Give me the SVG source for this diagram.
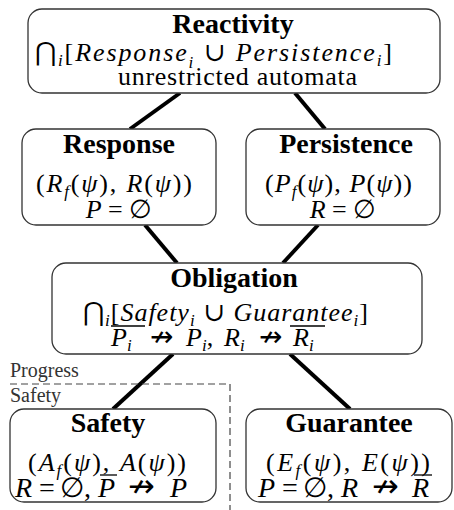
<svg xmlns="http://www.w3.org/2000/svg" width="454" height="510" viewBox="0 0 454 510">
<style>
.box{fill:#fff;stroke:#333;stroke-width:1.3}
.title{font-family:"Liberation Serif",serif;font-weight:bold;font-size:28px;text-anchor:middle;fill:#000}
.m{font-family:"Liberation Serif","DejaVu Serif",serif;font-size:26px;fill:#000}
.it{font-style:italic}
.sub{font-size:17px;font-style:italic}
.ar{font-family:"DejaVu Sans",sans-serif;font-size:28px;font-style:normal}
.edge{stroke:#000;stroke-width:4}
.dash{stroke:#444;stroke-width:1.2;stroke-dasharray:7 4;fill:none}
.lbl{font-family:"Liberation Serif",serif;font-size:20px;fill:#333}
.bar{stroke:#000;stroke-width:1.3}
</style>
<rect width="454" height="510" fill="#fff"/>
<g id="connectors">
<line class="edge" x1="180" y1="93" x2="130" y2="129"/>
<line class="edge" x1="295" y1="93" x2="325" y2="129"/>
<line class="edge" x1="145" y1="225" x2="177" y2="263"/>
<line class="edge" x1="318" y1="225" x2="283" y2="263"/>
<line class="edge" x1="173" y1="354" x2="113" y2="409"/>
<line class="edge" x1="290" y1="354" x2="350" y2="409"/>
</g>
<g id="separator">
<path class="dash" d="M10 384H230V510"/>
<text class="lbl" x="10" y="377">Progress</text>
<text class="lbl" x="10" y="402">Safety</text>
</g>
<g id="reactivity">
<rect class="box" x="28" y="9" width="412" height="84" rx="14"/>
<text class="title" x="233" y="33">Reactivity</text>
<text class="m" x="35" y="61" textLength="357">⋂<tspan class="sub" dy="5">i</tspan><tspan dy="-5">[</tspan><tspan class="it">Response</tspan><tspan class="sub" dy="7">i</tspan><tspan dy="-7"> ∪ </tspan><tspan class="it">Persistence</tspan><tspan class="sub" dy="5">i</tspan><tspan dy="-5">]</tspan></text>
<text class="m" x="118" y="85" textLength="239" style="font-size:26px">unrestricted automata</text>
</g>
<g id="response">
<rect class="box" x="22" y="129" width="194" height="96" rx="14"/>
<text class="title" x="119" y="153">Response</text>
<text class="m" x="36" y="192" textLength="156">(<tspan class="it">R</tspan><tspan class="sub" dy="5">f</tspan><tspan dy="-5">(</tspan><tspan class="it">ψ</tspan>), <tspan class="it">R</tspan>(<tspan class="it">ψ</tspan>))</text>
<text class="m" x="119" y="218" text-anchor="middle"><tspan class="it">P</tspan> = ∅</text>
</g>
<g id="persistence">
<rect class="box" x="246" y="129" width="194" height="96" rx="14"/>
<text class="title" x="346" y="153">Persistence</text>
<text class="m" x="265" y="192" textLength="147">(<tspan class="it">P</tspan><tspan class="sub" dy="5">f</tspan><tspan dy="-5">(</tspan><tspan class="it">ψ</tspan>), <tspan class="it">P</tspan>(<tspan class="it">ψ</tspan>))</text>
<text class="m" x="343" y="218" text-anchor="middle"><tspan class="it">R</tspan> = ∅</text>
</g>
<g id="obligation">
<rect class="box" x="52" y="263" width="370" height="91" rx="14"/>
<text class="title" x="234" y="287">Obligation</text>
<text class="m" x="83" y="321" textLength="285">⋂<tspan class="sub" dy="5">i</tspan><tspan dy="-5">[</tspan><tspan class="it">Safety</tspan><tspan class="sub" dy="5">i</tspan><tspan dy="-5"> ∪ </tspan><tspan class="it">Guarantee</tspan><tspan class="sub" dy="5">i</tspan><tspan dy="-5">]</tspan></text>
<text class="m" y="346"><tspan class="it" x="111">P</tspan><tspan class="sub" dy="5">i</tspan><tspan class="ar" x="150" dy="-5">↛</tspan><tspan class="it" x="186">P</tspan><tspan class="sub" dy="5">i</tspan><tspan dy="-5">,</tspan><tspan class="it" x="224">R</tspan><tspan class="sub" dy="5">i</tspan><tspan class="ar" x="259" dy="-5">↛</tspan><tspan class="it" x="293">R</tspan><tspan class="sub" dy="5">i</tspan></text>
<line class="bar" x1="111" y1="326" x2="145" y2="326"/>
<line class="bar" x1="290" y1="326" x2="325" y2="326"/>
</g>
<g id="safety">
<rect class="box" x="10" y="409" width="206" height="93" rx="14"/>
<text class="title" x="108" y="432">Safety</text>
<text class="m" x="28" y="471" textLength="158">(<tspan class="it">A</tspan><tspan class="sub" dy="5">f</tspan><tspan dy="-5">(</tspan><tspan class="it">ψ</tspan>), <tspan class="it">A</tspan>(<tspan class="it">ψ</tspan>))</text>
<text class="m" y="497" style="font-size:28px"><tspan class="it" x="15">R</tspan><tspan x="39">=</tspan><tspan x="60">∅,</tspan><tspan class="it" x="98">P</tspan><tspan class="ar" x="128" style="font-size:32px">↛</tspan><tspan class="it" x="170">P</tspan></text>
<line class="bar" x1="100" y1="475" x2="117" y2="475"/>
</g>
<g id="guarantee">
<rect class="box" x="246" y="409" width="206" height="93" rx="14"/>
<text class="title" x="349" y="432">Guarantee</text>
<text class="m" x="266" y="471" textLength="164">(<tspan class="it">E</tspan><tspan class="sub" dy="5">f</tspan><tspan dy="-5">(</tspan><tspan class="it">ψ</tspan>), <tspan class="it">E</tspan>(<tspan class="it">ψ</tspan>))</text>
<text class="m" y="497" style="font-size:28px"><tspan class="it" x="258">P</tspan><tspan x="282">=</tspan><tspan x="303">∅,</tspan><tspan class="it" x="341">R</tspan><tspan class="ar" x="372" style="font-size:32px">↛</tspan><tspan class="it" x="412">R</tspan></text>
<line class="bar" x1="414" y1="475" x2="432" y2="475"/>
</g>
</svg>
